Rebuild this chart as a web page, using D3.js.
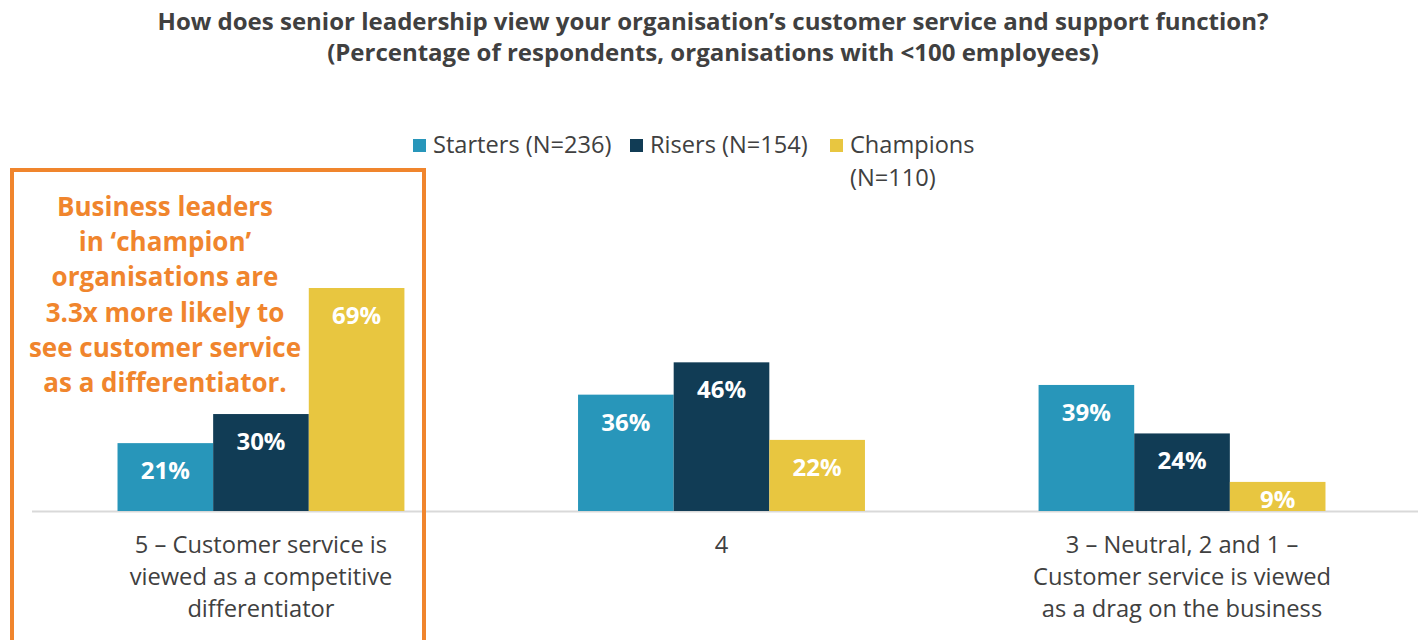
<!DOCTYPE html>
<html>
<head>
<meta charset="utf-8">
<script src="https://cdn.jsdelivr.net/npm/d3@7"></script>
<style>
  body { margin: 0; background: #fff; }
  svg { display: block; font-family: "Open Sans", Lato, sans-serif; }
</style>
</head>
<body>
<svg id="chart" width="1418" height="640"></svg>
<script>
// data
var categories = ["cat5", "cat4", "cat3"];
var categoryLines = [
  ["5 – Customer service is", "viewed as a competitive", "differentiator"],
  ["4"],
  ["3 – Neutral, 2 and 1 –", "Customer service is viewed", "as a drag on the business"]
];
var seriesNames = ["Starters (N=236)", "Risers (N=154)", "Champions (N=110)"];
var starters = [21, 36, 39];
var risers = [30, 46, 24];
var champions = [69, 22, 9];
var colors = ["#2896ba", "#113c55", "#e8c640"];
var titleLines = [
  "How does senior leadership view your organisation’s customer service and support function?",
  "(Percentage of respondents, organisations with <100 employees)"
];
var calloutLines = [
  "Business leaders",
  "in ‘champion’",
  "organisations are",
  "3.3x more likely to",
  "see customer service",
  "as a differentiator."
];

var svg = d3.select("#chart");
var textColor = "#404040";
var orange = "#f0852d";

var values = [starters, risers, champions];
var rows = categories.map(function(c, i) {
  return { cat: c, vals: values.map(function(s) { return s[i]; }) };
});

var x0 = d3.scaleBand()
    .domain(categories)
    .range([30.75, 1412.25])
    .paddingInner(0.377)
    .paddingOuter(0.1884);
var x1 = d3.scaleBand()
    .domain(d3.range(seriesNames.length))
    .range([0, x0.bandwidth()]);
var y = d3.scaleLinear()
    .domain([0, 69])
    .range([511, 288]);

// title
svg.append("g").selectAll("text")
    .data(titleLines)
  .enter().append("text")
    .attr("x", 713)
    .attr("y", (d, i) => 30 + i * 31)
    .attr("text-anchor", "middle")
    .attr("font-size", 24)
    .attr("font-weight", 700)
    .attr("fill", textColor)
    .text(d => d);

// legend
var legendX = [413, 630, 830];
var legend = svg.append("g").selectAll("g")
    .data(seriesNames)
  .enter().append("g")
    .attr("transform", (d, i) => "translate(" + legendX[i] + ",0)");
legend.append("rect")
    .attr("y", 139)
    .attr("width", 13)
    .attr("height", 13)
    .attr("fill", (d, i) => colors[i]);
legend.append("text")
    .attr("x", 20)
    .attr("y", 153)
    .attr("font-size", 23.6)
    .attr("fill", textColor)
    .each(function(d, i) {
      var parts = i == 2 ? ["Champions", "(N=110)"] : [d];
      d3.select(this).selectAll("tspan")
          .data(parts)
        .enter().append("tspan")
          .attr("x", 20)
          .attr("dy", (p, j) => j ? 33 : 0)
          .text(p => p);
    });

// axis line
svg.append("line")
    .attr("x1", 32)
    .attr("x2", 1418)
    .attr("y1", y(0) + 0.5)
    .attr("y2", y(0) + 0.5)
    .attr("stroke", "#d9d9d9")
    .attr("stroke-width", 2);

// bars
var groups = svg.append("g").selectAll("g")
    .data(rows)
  .enter().append("g")
    .attr("transform", d => "translate(" + x0(d.cat) + ",0)");

groups.selectAll("rect")
    .data(d => d.vals)
  .enter().append("rect")
    .attr("x", (d, i) => x1(i))
    .attr("y", d => y(d))
    .attr("width", x1.bandwidth())
    .attr("height", d => y(0) - y(d))
    .attr("fill", (d, i) => colors[i]);

groups.selectAll("text")
    .data(d => d.vals)
  .enter().append("text")
    .attr("x", (d, i) => x1(i) + x1.bandwidth() / 2)
    .attr("y", d => Math.min(y(d) + 36, y(0) - 3))
    .attr("text-anchor", "middle")
    .attr("font-size", 24)
    .attr("font-weight", 700)
    .attr("fill", "#fff")
    .text(d => d + "%");

// category labels
svg.append("g").selectAll("text")
    .data(rows)
  .enter().append("text")
    .attr("text-anchor", "middle")
    .attr("font-size", 23.7)
    .attr("fill", textColor)
    .each(function(d, i) {
      d3.select(this).selectAll("tspan")
          .data(categoryLines[i])
        .enter().append("tspan")
          .attr("x", x0(d.cat) + x0.bandwidth() / 2)
          .attr("y", (l, j) => 553 + j * 32)
          .text(l => l);
    });

// callout box
svg.append("rect")
    .attr("x", 12)
    .attr("y", 170)
    .attr("width", 412)
    .attr("height", 480)
    .attr("fill", "none")
    .attr("stroke", orange)
    .attr("stroke-width", 4);

svg.append("g").selectAll("text")
    .data(calloutLines)
  .enter().append("text")
    .attr("x", 165)
    .attr("y", (d, i) => 216 + i * 35.2)
    .attr("text-anchor", "middle")
    .attr("font-size", 26)
    .attr("font-weight", 700)
    .attr("fill", orange)
    .text(d => d);
</script>
</body>
</html>
